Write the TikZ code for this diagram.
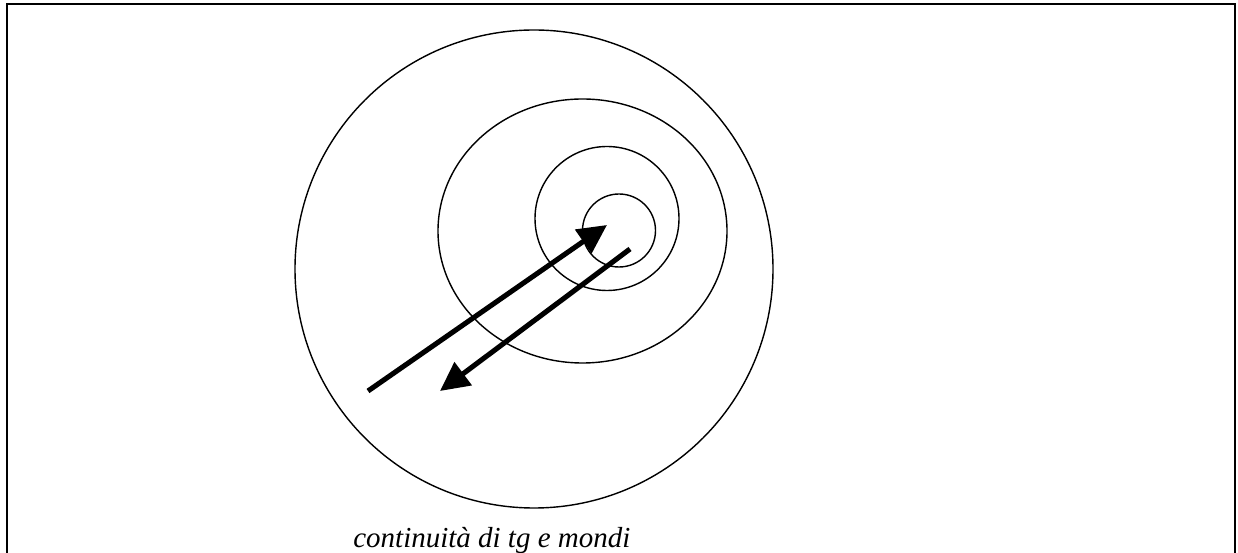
\documentclass[tikz,border=0pt]{standalone}
\usepackage{fontspec}
\setmainfont{Liberation Serif}
\usetikzlibrary{arrows.meta}

\tikzset{
  ring/.style={line width=0.8pt},
  bigarrow/.style={line width=2.9pt, -{Triangle[length=0.58cm,width=0.56cm]}},
}

\begin{document}
\begin{tikzpicture}[x=0.02cm,y=-0.02cm]
\useasboundingbox (0,0) rectangle (1238,553);
%% outside frame (bottom edge cut off)
\draw[line width=1.2pt] (7,553) -- (7,4) -- (1235,4) -- (1235,553);
%% circles
\draw[ring] (534,269) circle (239);
\draw[ring] (582.5,231) ellipse (144.5 and 132);
\draw[ring] (607,218.5) circle (72);
\draw[ring] (619,230.5) circle (36.5);
%%% arrows
\coordinate (intail) at (368,391);
\coordinate (intip) at (607,225);
\coordinate (outtail) at (630,249);
\coordinate (outtip) at (440,391);
\draw[bigarrow] (intail) -- (intip);
\draw[bigarrow] (outtail) -- (outtip);
%% caption
\node[anchor=base west, inner sep=0pt, font=\fontsize{16.5}{18}\selectfont\itshape] (caption) at (353,548) {continuità di tg e mondi};
\end{tikzpicture}
\end{document}
